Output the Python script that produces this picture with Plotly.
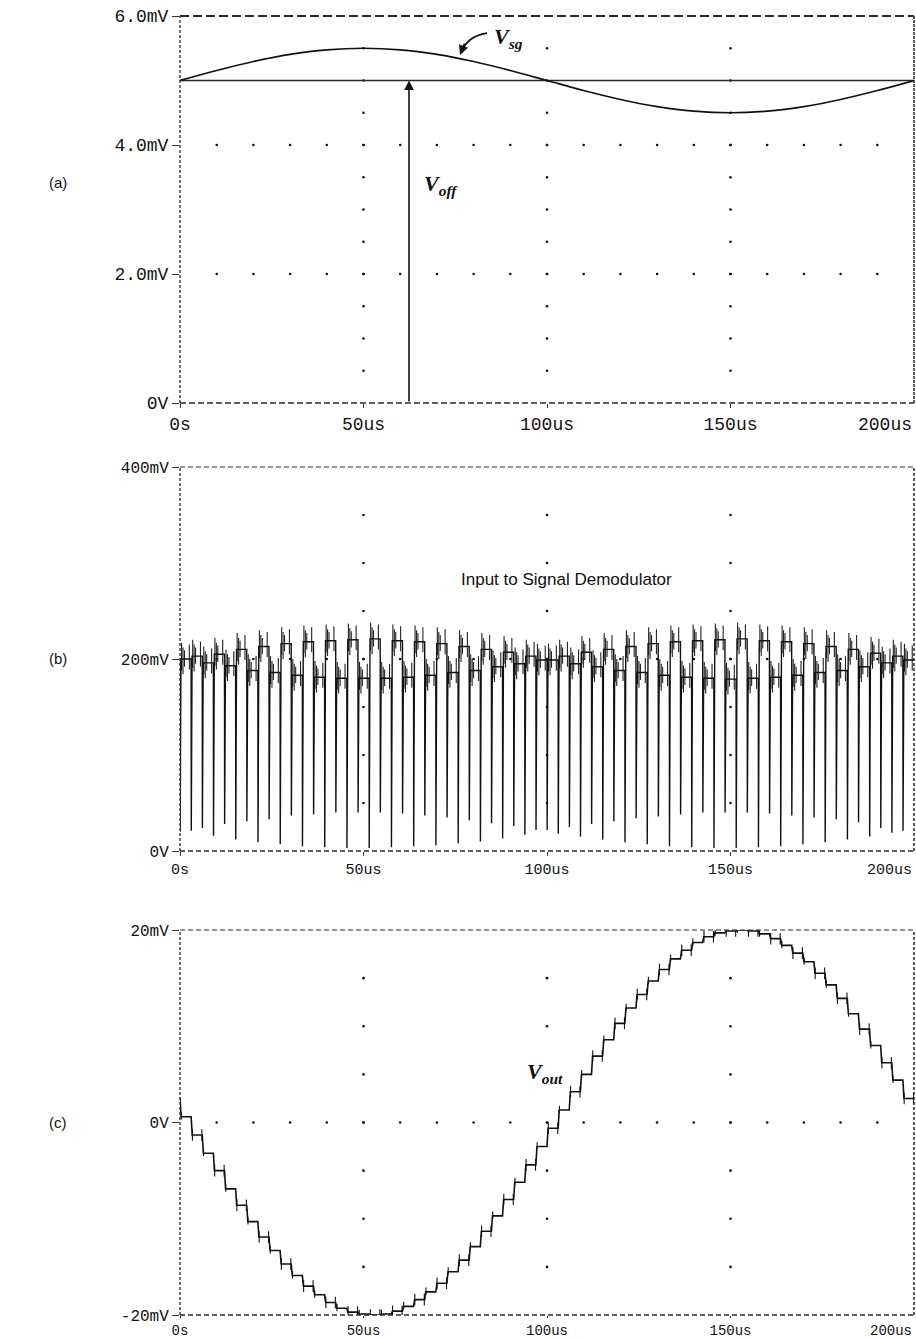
import plotly.graph_objects as go

# ---------------- data ----------------
# Panel (a): Vsg sampled every 10 us, offset level Voff
T_A = [0, 10, 20, 30, 40, 50, 60, 70, 80, 90, 100, 110, 120, 130, 140, 150, 160, 170, 180, 190, 200]
VSG_MV = [5.0, 5.155, 5.294, 5.405, 5.476, 5.5, 5.476, 5.405, 5.294, 5.155, 5.0,
          4.845, 4.706, 4.595, 4.524, 4.5, 4.524, 4.595, 4.706, 4.845, 5.0]
VOFF_MV = 5.0
VOFF_ARROW_T = 62.4

# Panel (b): chopped input, 66 clock steps over 200 us
T_END = 200.0
N_STEPS = 66
LEVELS_B = [200, 203, 196, 205, 193, 210, 188, 213, 186, 216, 183, 218, 181, 219, 180, 220, 180,
            221, 180, 219, 181, 218, 183, 216, 186, 213, 188, 210, 192, 207, 195, 203, 199,
            199, 203, 195, 207, 192, 210, 188, 213, 186, 216, 183, 218, 181, 219, 180, 220, 179,
            221, 180, 219, 181, 218, 183, 216, 186, 213, 188, 210, 192, 206, 196, 203, 199]
SPIKE_B = [20, 21, 24, 16, 28, 12, 31, 9, 33, 7, 37, 5, 38, 4, 40, 3, 40,
           3, 40, 4, 39, 5, 37, 6, 35, 8, 32, 10, 29, 13, 26, 17, 22,
           22, 18, 25, 15, 28, 12, 31, 9, 34, 7, 36, 5, 38, 4, 40, 3, 40,
           3, 40, 4, 39, 5, 37, 7, 35, 9, 33, 12, 30, 15, 24, 19, 21]

# Panel (c): demodulated output staircase (mV)
VOUT_START = 2.6
VOUT_C = [0.6, -1.3, -3.2, -5.0, -6.9, -8.6, -10.3, -11.9, -13.3, -14.7, -15.9, -17.0, -17.9,
          -18.7, -19.3, -19.7, -19.9, -20.0, -19.9, -19.6, -19.1, -18.4, -17.6, -16.7, -15.5,
          -14.3, -12.9, -11.3, -9.7, -8.0, -6.2, -4.4, -2.5,
          -0.6, 1.3, 3.2, 5.0, 6.9, 8.6, 10.3, 11.9, 13.3, 14.7, 15.9, 17.0, 17.9,
          18.7, 19.3, 19.7, 19.9, 20.0, 19.9, 19.6, 19.1, 18.4, 17.6, 16.7, 15.5,
          14.3, 12.9, 11.3, 9.7, 8.0, 6.2, 4.4, 2.5]

X_TICKS = [0, 50, 100, 150]
X_TEXT = ["0s", "50us", "100us", "150us"]
X_LAST_TICK = 200
X_LAST_LABEL = "200us"
Y_TICKS_A = [0, 2, 4, 6]
Y_TEXT_A = ["0V", "2.0mV", "4.0mV", "6.0mV"]
Y_TICKS_B = [0, 200, 400]
Y_TEXT_B = ["0V", "200mV", "400mV"]
Y_TICKS_C = [-20, 0, 20]
Y_TEXT_C = ["-20mV", "0V", "20mV"]

# ---------------- figure ----------------
W, H = 916, 1339
fig = go.Figure()
INK = "#111111"


def dots(xref, yref, cols, col_vals, rows, row_vals):
    xs, ys = [], []
    for c in cols:
        for v in col_vals:
            xs.append(c); ys.append(v)
    for r in rows:
        for v in row_vals:
            xs.append(v); ys.append(r)
    fig.add_trace(go.Scatter(x=xs, y=ys, mode="markers", xaxis=xref, yaxis=yref,
                             marker=dict(size=2.6, color=INK), hoverinfo="skip"))


tens = [10 * i for i in range(1, 20)]
dots("x", "y", [50, 100, 150], [0.5 * i for i in range(1, 12)], [2, 4], tens)
dots("x2", "y2", [50, 100, 150], [50 * i for i in range(1, 8)], [200], tens)
dots("x3", "y3", [50, 100, 150], [5 * i for i in range(-3, 4)], [0], tens)

# Panel (a) traces
fig.add_trace(go.Scatter(x=[0, 200], y=[VOFF_MV, VOFF_MV], mode="lines", xaxis="x", yaxis="y",
                         line=dict(color="#2a2a2a", width=1.6), hoverinfo="skip"))
fig.add_trace(go.Scatter(x=T_A, y=VSG_MV, mode="lines", xaxis="x", yaxis="y",
                         line=dict(color=INK, width=1.7, shape="spline"), hoverinfo="skip"))

# Panel (b) traces
step = T_END / N_STEPS
bx, by = [], []
prev = LEVELS_B[0]
for k, (lv, sp) in enumerate(zip(LEVELS_B, SPIKE_B)):
    t0 = k * step
    t1 = t0 + step
    bx += [t0, t0 + 0.04, t0 + 0.26, t1]
    by += [prev, sp, lv, lv]
    prev = lv
HAIR_POS = [0.14, 0.27, 0.4, 0.84]
HAIR_EXT = [(-12, 17), (-16, 12), (-8, 9), (-11, 15)]
hx, hy = [], []
for k, lv in enumerate(LEVELS_B):
    t0 = k * step
    for p, (lo, hi) in zip(HAIR_POS, HAIR_EXT):
        hx += [t0 + p * step, t0 + p * step, None]
        hy += [lv + lo, lv + hi, None]
fig.add_trace(go.Scatter(x=hx, y=hy, mode="lines", xaxis="x2", yaxis="y2",
                         line=dict(color="#222222", width=1.1), hoverinfo="skip"))
fig.add_trace(go.Scatter(x=bx, y=by, mode="lines", xaxis="x2", yaxis="y2",
                         line=dict(color=INK, width=1.4), hoverinfo="skip"))

# Panel (c) traces
cx, cy = [], []
prev = VOUT_START
gx, gy = [], []
for k, v in enumerate(VOUT_C):
    t0 = k * step
    t1 = t0 + step
    cx += [t0, t0 + 0.3, t1]
    cy += [prev, v, v]
    prev = v
    if k % 2 == 1:
        for tt in (t0 + 0.35, t1 - 0.1):
            gx += [tt, tt, None]
            gy += [v - 0.6, v + 0.6, None]
    else:
        gx += [t0 + 0.35, t0 + 0.35, None]
        gy += [v - 0.3, v + 0.45, None]
fig.add_trace(go.Scatter(x=gx, y=gy, mode="lines", xaxis="x3", yaxis="y3",
                         line=dict(color=INK, width=1.1), hoverinfo="skip"))
fig.add_trace(go.Scatter(x=cx, y=cy, mode="lines", xaxis="x3", yaxis="y3",
                         line=dict(color=INK, width=1.6), hoverinfo="skip"))

# ---------------- axes ----------------
xdom = [180 / W, 914 / W]


def ydom(top, bottom):
    return [1 - bottom / H, 1 - top / H]


def xax(anchor, size, tlen):
    return dict(domain=xdom, range=[0, 200], anchor=anchor, showgrid=False, zeroline=False,
                showline=False, ticks="outside", ticklen=tlen, tickwidth=1.2, tickcolor="#333",
                tickvals=X_TICKS, ticktext=X_TEXT, automargin=False, ticklabeloverflow="allow",
                tickfont=dict(family="Liberation Mono", size=size, color=INK), fixedrange=True)


def yax(anchor, dom, rng, vals, text, size):
    return dict(domain=dom, range=rng, anchor=anchor, showgrid=False, zeroline=False,
                showline=False, ticks="outside", ticklen=7, tickwidth=1.2, tickcolor="#333",
                tickvals=vals, ticktext=text, automargin=False, ticklabeloverflow="allow",
                tickfont=dict(family="Liberation Mono", size=size, color=INK), fixedrange=True)


# (x axis, y axis, label font size, tick length, shift of the right-end label)
X_FONTS = [("x", "y", 18, 4, -11), ("x2", "y2", 15, 4, -10), ("x3", "y3", 14, 2, -7)]

fig.update_layout(
    width=W, height=H, margin=dict(l=0, r=0, t=0, b=0, pad=0, autoexpand=False),
    paper_bgcolor="white", plot_bgcolor="white", showlegend=False,
    xaxis=xax("y", 18, 4),
    yaxis=yax("x", ydom(16, 403), [0, 6], Y_TICKS_A, Y_TEXT_A, 18),
    xaxis2=xax("y2", 15, 4),
    yaxis2=yax("x2", ydom(467, 851), [0, 400], Y_TICKS_B, Y_TEXT_B, 16),
    xaxis3=xax("y3", 14, 2),
    yaxis3=yax("x3", ydom(930, 1315), [-20, 20], Y_TICKS_C, Y_TEXT_C, 16),
)

# dashed frames
shapes = []
frames = [
    ("x", "y", "9px,4px", "6px,3px", "3px,2px", "3px,1px", 1.8),
    ("x2", "y2", "5px,3px", "5px,3px", "3px,2px", "3px,2px", 1.2),
    ("x3", "y3", "5px,3px", "5px,3px", "3px,2px", "3px,2px", 1.2),
]
for xr, yr, dtop, dbot, dleft, dright, wtop in frames:
    xd, yd = xr + " domain", yr + " domain"
    shapes.append(dict(type="line", xref=xd, yref=yd, x0=0, x1=1, y0=1, y1=1,
                       line=dict(color="#2a2a2a", width=wtop, dash=dtop)))
    shapes.append(dict(type="line", xref=xd, yref=yd, x0=0, x1=1, y0=0, y1=0,
                       line=dict(color="#2a2a2a", width=1.3, dash=dbot)))
    shapes.append(dict(type="line", xref=xd, yref=yd, x0=0, x1=0, y0=0, y1=1,
                       line=dict(color="#2a2a2a", width=1.3, dash=dleft)))
    shapes.append(dict(type="line", xref=xd, yref=yd, x0=1, x1=1, y0=0, y1=1,
                       line=dict(color="#2a2a2a", width=1.5, dash=dright)))
# curved pointer to Vsg
shapes.append(dict(type="path", xref="x", yref="y",
                   path="M 83.65,5.736 Q 78.2,5.69 76.6,5.43",
                   line=dict(color=INK, width=1.8)))
fig.update_layout(shapes=shapes)

serif = dict(family="Liberation Serif", size=22, color=INK)
ann = [
    dict(x=89.6, y=5.66, xref="x", yref="y", text="<b><i>V<sub>sg</sub></i></b>",
         showarrow=False, font=serif, xanchor="center", yanchor="middle"),
    dict(x=76.3, y=5.395, xref="x", yref="y", text="", showarrow=True, ax=5, ay=-13,
         arrowhead=2, arrowsize=1.2, arrowwidth=1.6, arrowcolor=INK, standoff=0),
    dict(x=VOFF_ARROW_T, y=VOFF_MV, xref="x", yref="y", ax=VOFF_ARROW_T, ay=0,
         axref="x", ayref="y", text="", showarrow=True, arrowhead=2, arrowsize=1.2,
         arrowwidth=1.6, arrowcolor=INK, standoff=0),
    dict(x=71.0, y=3.38, xref="x", yref="y", text="<b><i>V<sub>off</sub></i></b>",
         showarrow=False, font=serif, xanchor="center", yanchor="middle"),
    dict(x=105.4, y=283, xref="x2", yref="y2", text="Input to Signal Demodulator",
         showarrow=False, font=dict(family="Liberation Sans", size=17, color=INK),
         xanchor="center", yanchor="middle"),
    dict(x=99.5, y=5.1, xref="x3", yref="y3", text="<b><i>V<sub>out</sub></i></b>",
         showarrow=False, font=serif, xanchor="center", yanchor="middle",
         bgcolor="white", borderpad=0),
]
# last x tick label kept inside the page (right-aligned to the axis end)
for xr, yr, size, tlen, ysh in X_FONTS:
    ann.append(dict(x=X_LAST_TICK, y=0, xref=xr, yref=yr + " domain", text=X_LAST_LABEL,
                    showarrow=False, xanchor="right", yanchor="top", xshift=-1,
                    yshift=ysh, borderpad=0,
                    font=dict(family="Liberation Mono", size=size, color=INK)))
for lab, py in (("(a)", 183), ("(b)", 659), ("(c)", 1122)):
    ann.append(dict(x=58 / W, y=1 - py / H, xref="paper", yref="paper", text=lab,
                    showarrow=False, xanchor="center", yanchor="middle",
                    font=dict(family="Liberation Sans", size=15, color=INK)))
fig.update_layout(annotations=ann)

fig.write_html("out.html", config={"displayModeBar": False},
               post_script="document.body.style.margin='0px';"
                           "document.body.style.overflow='hidden';")
